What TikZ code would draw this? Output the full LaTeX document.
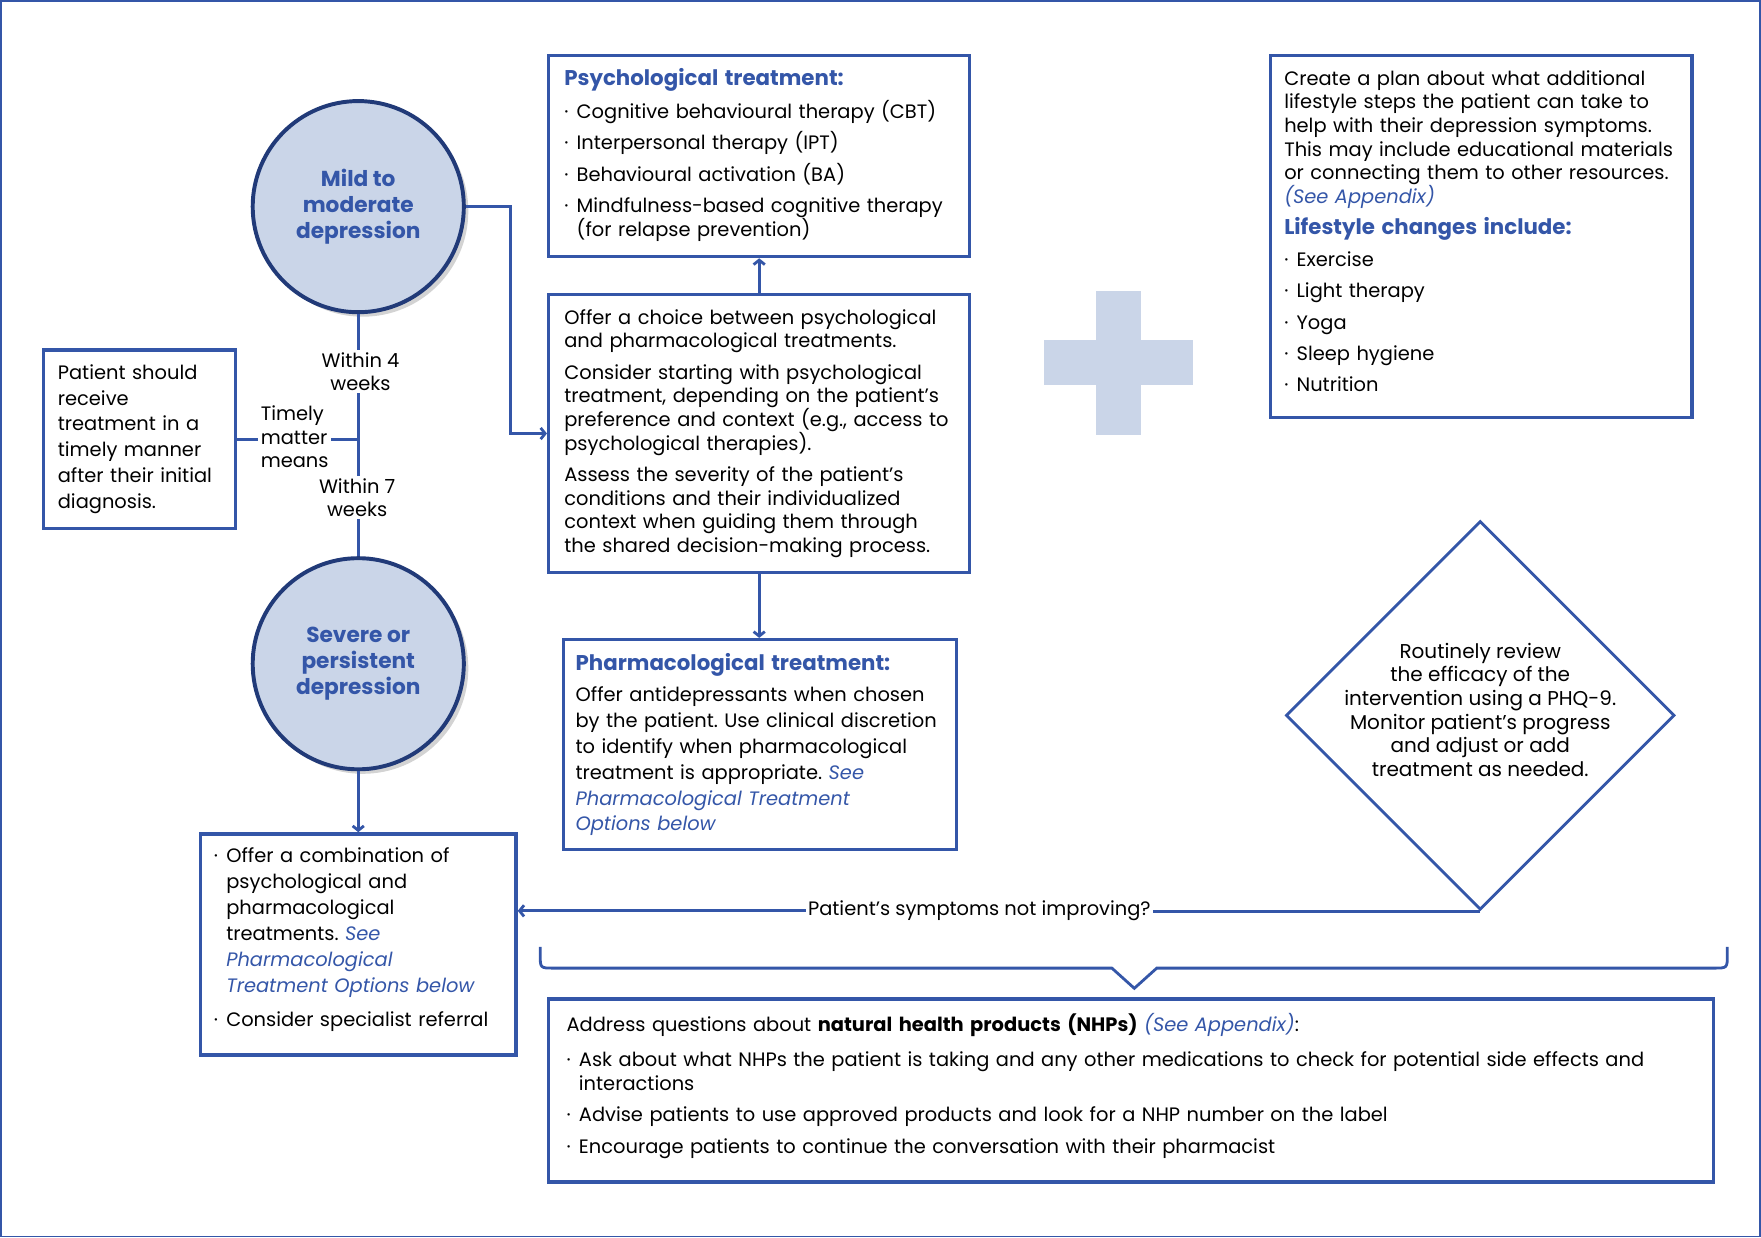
\documentclass[tikz,border=0pt]{standalone}
\usepackage{fontspec}
\setmainfont{Poppins}
\usetikzlibrary{arrows.meta}
\usetikzlibrary{shapes.geometric}
\usetikzlibrary{shadows}

\definecolor{blu}{RGB}{52,86,168}
\definecolor{navy}{RGB}{33,58,120}
\definecolor{pale}{RGB}{202,213,232}
\newcommand{\bul}{\hangindent=11pt\hangafter=1\noindent\makebox[11pt][l]{·}}
\newcommand{\itm}{\par\bul}
\newcommand{\see}[1]{\textcolor{blu}{\itshape #1}}
\newcommand{\ttl}[1]{{\fontsize{19}{21}\selectfont\bfseries\color{blu}#1}}
\newcommand{\lift}[1]{\par\vspace{#1}\hrule height 0pt}
\frenchspacing

\begin{document}
\begin{tikzpicture}[x=1pt,y=-1pt,
    >={Straight Barb[length=4pt,width=10pt]},
    box/.style={draw=blu,line width=3pt,rectangle,anchor=north west,inner xsep=14pt,inner ysep=4pt,align=left,
        font=\fontsize{17.3}{21}\selectfont,execute at begin node=\setlength{\parskip}{7pt}},
    circ/.style={circle,draw=navy,line width=3.5pt,fill=pale,minimum size=188pt,text=blu,align=center,
        font=\fontsize{19.3}{23}\selectfont\bfseries,drop shadow={opacity=.35,shadow xshift=4pt,shadow yshift=-4pt}},
    lbl/.style={font=\fontsize{17.3}{21}\selectfont,align=center,inner sep=2pt},
    link/.style={draw=blu,line width=2.5pt}]
        \useasboundingbox (0,0) rectangle (1568,1102);
        \draw[blu,line width=1.5pt] (1,1) rectangle (1567,1101);

        \fill[pale] (976,259) rectangle (1016,387);
        \fill[pale] (930,303) rectangle (1062,343);

        \node[circ] (mild) at (319,184) {Mild to\\moderate\\depression};
        \node[circ] (sev) at (319,591) {Severe or\\persistent\\depression};

        \node[box,minimum width=171pt,minimum height=159pt,text width=145pt,inner xsep=13pt,
            font=\fontsize{17.3}{23}\selectfont] (pat) at (37,310)
            {Patient should\\receive\\treatment in a\\timely manner\\after their initial\\diagnosis.};
        \node[lbl] (w4) at (321,331) {Within 4\\weeks};
        \node[lbl] (w7) at (318,443) {Within 7\\weeks};
        \node[lbl,align=left,anchor=west] (timely) at (230,389) {Timely\\matter\\means};

        \node[box,minimum width=375pt,minimum height=179pt,text width=347pt] (psych) at (487,48)
            {\ttl{Psychological treatment:}
            \itm Cognitive behavioural therapy (CBT)
            \itm Interpersonal therapy (IPT)
            \itm Behavioural activation (BA)
            \itm Mindfulness-based cognitive therapy\newline(for relapse prevention)\lift{2pt}};
        \node[box,minimum width=375pt,minimum height=247pt,text width=347pt] (choice) at (487,261)
            {Offer a choice between psychological\\and pharmacological treatments.\par
            Consider starting with psychological\\treatment, depending on the patient's\\preference and context (e.g., access to\\psychological therapies).\par
            Assess the severity of the patient's\\conditions and their individualized\\context when guiding them through\\the shared decision-making process.};
        \node[box,minimum width=350pt,minimum height=187pt,text width=328pt,inner xsep=11pt,
            font=\fontsize{17.3}{23}\selectfont,execute at begin node=\setlength{\parskip}{5pt}] (pharm) at (500,568)
            {\ttl{Pharmacological treatment:}\par
            Offer antidepressants when chosen\\by the patient. Use clinical discretion\\to identify when pharmacological\\treatment is appropriate. \see{See}\\\see{Pharmacological Treatment}\\\see{Options below}};
        \node[box,minimum width=281pt,minimum height=197pt,text width=257pt,inner xsep=12pt,
            font=\fontsize{17.3}{23}\selectfont,execute at begin node=\setlength{\parskip}{8pt}] (combo) at (177,741)
            {\bul Offer a combination of\newline psychological and\newline pharmacological\newline treatments. \see{See}\newline\see{Pharmacological}\newline\see{Treatment Options below}
            \itm Consider specialist referral\lift{8pt}};
        \node[box,minimum width=375pt,minimum height=322pt,text width=351pt,inner xsep=12pt] (life) at (1130,48)
            {Create a plan about what additional\\lifestyle steps the patient can take to\\help with their depression symptoms.\\This may include educational materials\\or connecting them to other resources.\\\see{(See Appendix)}\par
            \ttl{Lifestyle changes include:}
            \itm Exercise
            \itm Light therapy
            \itm Yoga
            \itm Sleep hygiene
            \itm Nutrition\lift{9pt}};
        \node[box,minimum width=1037pt,minimum height=163pt,text width=1005pt,inner xsep=16pt] (nhp) at (487,888)
            {Address questions about \textbf{natural health products (NHPs)} \see{(See Appendix)}:\par\vspace{3pt}
            \itm Ask about what NHPs the patient is taking and any other medications to check for potential side effects and\newline interactions
            \itm Advise patients to use approved products and look for a NHP number on the label
            \itm Encourage patients to continue the conversation with their pharmacist\lift{8pt}};

        \node[diamond,draw=blu,line width=2.5pt,aspect=1,minimum width=346pt,minimum height=346pt] (rev) at (1318,637) {};
        \node[lbl,font=\fontsize{17.8}{21}\selectfont] (revtxt) at (1318,632) {Routinely review\\the efficacy of the\\intervention using a PHQ-9.\\Monitor patient's progress\\and adjust or add\\treatment as needed.};
        \node[lbl] (q) at (872,811) {Patient's symptoms not improving?};

        \draw[link] (mild.south) -- (mild.south |- w4.north);
        \draw[link] (mild.south |- w4.south) -- (mild.south |- w7.north);
        \draw[link] (mild.south |- w7.south) -- (sev.north);
        \draw[link] (pat.east) -- (timely.west |- pat.east);
        \draw[link] (timely.east |- pat.east) -- (mild.south |- pat.east);
        \draw[link,->] (mild.east) -- ++(40,0) |- (choice.west);
        \draw[link,->] (choice.north) -- (psych.south);
        \draw[link,->] (choice.south) -- (choice.south |- pharm.north);
        \draw[link,->] (sev.south) -- (sev.south |- combo.north);
        \draw[link] (rev.south) -- (q.east |- rev.south);
        \draw[link,->] (q.west) -- (combo.east |- q.west);

        \draw[link] (481,843) -- (481,850) .. controls (481,862) .. (493,862) -- (990,862) -- (1010,880) -- (1030,862)
            -- (1526,862) .. controls (1538,862) .. (1538,850) -- (1538,843);
\end{tikzpicture}
\end{document}
